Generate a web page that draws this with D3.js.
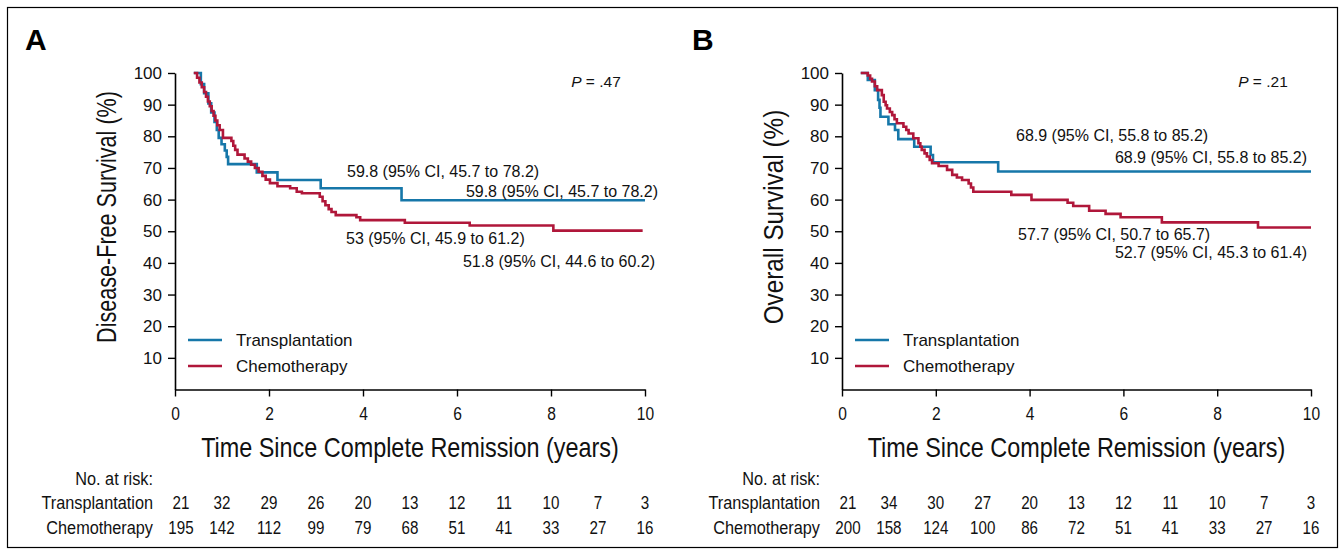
<!DOCTYPE html>
<html>
<head>
<meta charset="utf-8">
<script src="https://cdn.jsdelivr.net/npm/d3@7.9.0/dist/d3.min.js"></script>
<style>
  body { margin: 0; background: #fff; }
  svg { display: block; font-family: "Liberation Sans", Arial, sans-serif; }
</style>
</head>
<body>
<svg id="chart" width="1344" height="551"></svg>
<script>
const width = 1344;
const height = 551;

const blue = "#1677a9";
const red = "#b0173a";

// Kaplan-Meier steps (years, % surviving)
const dfsTxTime = [0.40, 0.55, 0.62, 0.71, 0.77, 0.84, 0.89, 0.93, 0.99, 1.06, 1.10, 1.13, 1.74, 2.18, 3.10, 4.82, 10.0];
const dfsTxSurv = [100, 96.5, 93.6, 90.4, 87.5, 84.5, 82.0, 79.5, 77.5, 75.5, 73.5, 71.2, 68.6, 66.2, 63.6, 59.8, 59.8];

const dfsChTime = [0.40, 0.47, 0.52, 0.57, 0.62, 0.66, 0.70, 0.74, 0.78, 0.82, 0.86, 0.90, 0.95, 1.02, 1.20, 1.24, 1.28, 1.33, 1.48, 1.55, 1.62, 1.70, 1.78, 1.86, 1.93, 2.02, 2.18, 2.45, 2.59, 2.70, 3.08, 3.14, 3.20, 3.27, 3.33, 3.42, 3.86, 3.94, 4.89, 6.27, 8.05, 9.95];
const dfsChSurv = [100, 98.5, 97, 95.5, 94, 92.5, 91, 89.5, 88, 86.5, 85, 83.5, 82, 79.5, 78.5, 77, 75.7, 74.2, 73, 72, 71, 70, 68.8, 67.5, 66.3, 65.2, 64.2, 63.6, 62.5, 62.0, 60.9, 59.5, 58.2, 57.0, 56.1, 55.1, 54.4, 53.5, 52.7, 51.8, 50.2, 50.2];

const osTxTime = [0.40, 0.55, 0.70, 0.77, 0.80, 0.82, 0.99, 1.13, 1.20, 1.54, 1.89, 1.94, 3.33, 10.0];
const osTxSurv = [100, 97.8, 94.6, 91.5, 89.0, 86.2, 83.8, 82.0, 79.1, 76.7, 74.1, 71.8, 68.9, 68.9];

const osChTime = [0.40, 0.55, 0.60, 0.64, 0.70, 0.75, 0.85, 0.89, 0.93, 0.96, 1.02, 1.07, 1.12, 1.17, 1.31, 1.37, 1.42, 1.52, 1.63, 1.67, 1.70, 1.76, 1.81, 1.87, 1.92, 2.06, 2.24, 2.35, 2.45, 2.56, 2.70, 2.75, 2.80, 3.61, 4.04, 4.81, 4.93, 5.27, 5.62, 5.94, 6.82, 8.87, 10.0];
const osChSurv = [100, 99.2, 98.2, 97.3, 95.8, 94.6, 93.0, 90.9, 89.8, 88.8, 87.7, 86.7, 85.4, 84.1, 83.0, 82.0, 80.9, 79.4, 77.8, 76.7, 75.7, 74.6, 73.6, 72.5, 71.5, 70.6, 69.4, 67.8, 67.0, 66.2, 65.1, 63.8, 62.5, 61.5, 59.9, 59.0, 58.0, 56.5, 55.5, 54.4, 52.8, 51.2, 51.2];

const xTicks = [0, 2, 4, 6, 8, 10];
const yTicks = [10, 20, 30, 40, 50, 60, 70, 80, 90, 100];
const riskYears = [0, 1, 2, 3, 4, 5, 6, 7, 8, 9, 10];

const riskA_tx = [21, 32, 29, 26, 20, 13, 12, 11, 10, 7, 3];
const riskA_ch = [195, 142, 112, 99, 79, 68, 51, 41, 33, 27, 16];
const riskB_tx = [21, 34, 30, 27, 20, 13, 12, 11, 10, 7, 3];
const riskB_ch = [200, 158, 124, 100, 86, 72, 51, 41, 33, 27, 16];

const seriesNames = ["Transplantation", "Chemotherapy"];

const panels = [
  {
    letter: "A", left: 175, right: 645, yTitle: "Disease-Free Survival (%)", yTitleK: 0.80,
    p: "= .47", pX: 596,
    tx: { t: dfsTxTime, s: dfsTxSurv }, ch: { t: dfsChTime, s: dfsChSurv },
    risk: [riskA_tx, riskA_ch],
    notes: [
      { t: "59.8 (95% CI, 45.7 to 78.2)", x: 347, y: 177, a: "start" },
      { t: "59.8 (95% CI, 45.7 to 78.2)", x: 658, y: 197, a: "end" },
      { t: "53 (95% CI, 45.9 to 61.2)", x: 346, y: 244, a: "start" },
      { t: "51.8 (95% CI, 44.6 to 60.2)", x: 655, y: 267, a: "end" }
    ]
  },
  {
    letter: "B", left: 842, right: 1311, yTitle: "Overall Survival (%)", yTitleK: 0.90,
    p: "= .21", pX: 1263,
    tx: { t: osTxTime, s: osTxSurv }, ch: { t: osChTime, s: osChSurv },
    risk: [riskB_tx, riskB_ch],
    notes: [
      { t: "68.9 (95% CI, 55.8 to 85.2)", x: 1016, y: 141, a: "start" },
      { t: "68.9 (95% CI, 55.8 to 85.2)", x: 1307, y: 163, a: "end" },
      { t: "57.7 (95% CI, 50.7 to 65.7)", x: 1018, y: 240, a: "start" },
      { t: "52.7 (95% CI, 45.3 to 61.4)", x: 1307, y: 258, a: "end" }
    ]
  }
];

const svg = d3.select("#chart");
svg.append("rect").attr("width", width).attr("height", height).attr("fill", "#fff");
svg.append("rect")
  .attr("x", 7.5).attr("y", 7.5)
  .attr("width", 1330).attr("height", 540)
  .attr("fill", "none").attr("stroke", "#000").attr("stroke-width", 1.2);

// narrow-looking text (the source uses a condensed face)
function narrow(g, x, y, str, size, anchor, k, rot = 0) {
  return g.append("text")
    .attr("transform", `translate(${x},${y}) rotate(${rot}) scale(${k},1)`)
    .attr("text-anchor", anchor)
    .attr("font-size", size)
    .attr("fill", "#111")
    .text(str);
}

const y = d3.scaleLinear().domain([0, 100]).range([389.5, 73]);

panels.forEach(pn => {
  const g = svg.append("g");
  const x = d3.scaleLinear().domain([0, 10]).range([pn.left, pn.right]);

  g.append("text")
    .attr("x", pn.left - 150).attr("y", 50)
    .attr("font-size", 30).attr("font-weight", "bold")
    .text(pn.letter);

  // axes
  const yAxis = g.append("g")
    .attr("transform", `translate(${pn.left},0)`)
    .call(d3.axisLeft(y).tickValues(yTicks).tickSize(7).tickSizeOuter(0).tickPadding(6));
  yAxis.selectAll("text").attr("font-size", 17).attr("fill", "#111")
    .attr("font-family", "Liberation Sans, Arial, sans-serif");

  const xAxis = g.append("g")
    .attr("transform", "translate(0,389.5)")
    .call(d3.axisBottom(x).tickValues(xTicks).tickSize(7).tickSizeOuter(0).tickPadding(10));
  xAxis.selectAll("text").attr("font-size", 19).attr("fill", "#111")
    .attr("transform", "scale(0.82,1)")
    .attr("font-family", "Liberation Sans, Arial, sans-serif");

  [yAxis, xAxis].forEach(a => {
    a.select(".domain").attr("stroke-width", 1.6);
    a.selectAll(".tick line").attr("stroke-width", 1.4);
  });

  // axis titles
  narrow(g, (pn.left + pn.right) / 2, 457, "Time Since Complete Remission (years)", 27, "middle", 0.867);
  narrow(g, pn.left - 59, 217, pn.yTitle, 27, "middle", pn.yTitleK, -90);

  // curves
  const line = d3.line()
    .x(d => x(d[0]))
    .y(d => y(d[1]))
    .curve(d3.curveStepAfter);

  [[pn.tx, blue], [pn.ch, red]].forEach(([ser, col]) => {
    const pts = ser.t.map((t, i) => [t, ser.s[i]]);
    g.append("path")
      .datum(pts)
      .attr("d", line)
      .attr("fill", "none")
      .attr("stroke", col)
      .attr("stroke-width", 2.6);
  });

  // annotations
  g.append("text")
    .attr("x", pn.pX).attr("y", 87)
    .attr("text-anchor", "middle")
    .attr("font-size", 15.5).attr("fill", "#111")
    .html(`<tspan font-style="italic">P</tspan> ${pn.p}`);

  pn.notes.forEach(n => {
    g.append("text")
      .attr("x", n.x).attr("y", n.y)
      .attr("text-anchor", n.a)
      .attr("font-size", 16).attr("fill", "#111")
      .text(n.t);
  });

  // legend
  [blue, red].forEach((col, i) => {
    const ly = 340 + i * 26;
    g.append("line")
      .attr("x1", pn.left + 13).attr("x2", pn.left + 47)
      .attr("y1", ly).attr("y2", ly)
      .attr("stroke", col).attr("stroke-width", 2.6);
    g.append("text")
      .attr("x", pn.left + 61).attr("y", ly + 6)
      .attr("font-size", 17).attr("fill", "#111")
      .text(seriesNames[i]);
  });

  // number at risk
  const labelX = pn.left - 22;
  narrow(g, labelX, 485, "No. at risk:", 18.5, "end", 0.88);
  pn.risk.forEach((row, r) => {
    const ry = 509 + r * 25;
    narrow(g, labelX, ry, seriesNames[r], 18.5, "end", 0.88);
    row.forEach((v, i) => {
      const cx = i === 0 ? x(riskYears[i]) + 6 : x(riskYears[i]);
      narrow(g, cx, ry, v, 18.5, "middle", 0.82);
    });
  });
});
</script>
</body>
</html>
